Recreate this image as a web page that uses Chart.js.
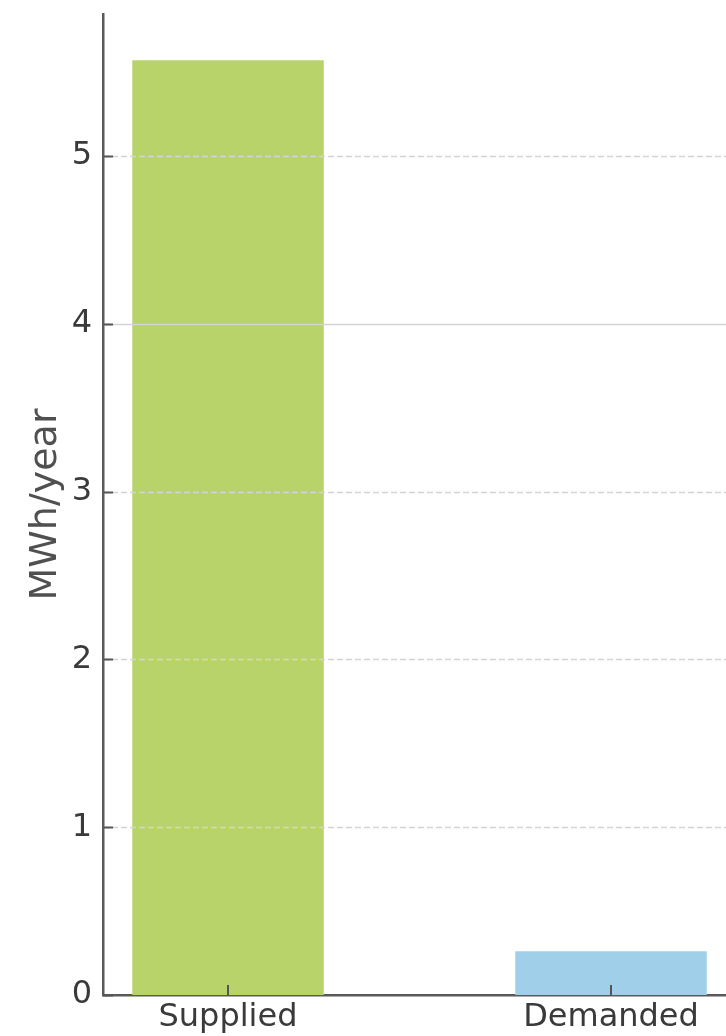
<!DOCTYPE html>
<html>
<head>
<meta charset="utf-8">
<title>Supplied vs demanded energy</title>
<script src="https://cdn.jsdelivr.net/npm/chart.js@4/dist/chart.umd.min.js"></script>
<style>
  html, body { margin: 0; padding: 0; background: #fff; }
  canvas { display: block; }
</style>
</head>
<body>
<canvas id="energyChart" width="726" height="1036"></canvas>
<script>
// ---- data ----
const categories  = ["Supplied", "Demanded"];
const energyMWh   = [5.57, 0.26];
const barColors   = ["#b9d36b", "#a0cfea"];
const yTicks      = [0, 1, 2, 3, 4, 5];
const yMax        = 5.846;
const solidLineAt = 4;

const FONT = "'DejaVu Sans', sans-serif";

// horizontal grid lines over the bars: dashed, except one solid reference line
const gridOverBars = {
  id: "gridOverBars",
  afterDatasetsDraw(chart) {
    const { ctx, chartArea, scales } = chart;
    ctx.save();
    ctx.strokeStyle = "#d4d4d4";
    ctx.lineWidth = 1.5;
    yTicks.forEach(v => {
      if (v === 0) return;
      const y = Math.round(scales.y.getPixelForValue(v)) + 0.5;
      ctx.setLineDash(v === solidLineAt ? [] : [6, 3]);
      ctx.beginPath();
      ctx.moveTo(chartArea.left, y);
      ctx.lineTo(chartArea.right, y);
      ctx.stroke();
    });
    ctx.restore();
  },
  // short inward tick marks on both axes
  afterDraw(chart) {
    const { ctx, chartArea, scales } = chart;
    ctx.save();
    ctx.strokeStyle = "#555";
    ctx.lineWidth = 2;
    ctx.beginPath();
    scales.y.ticks.forEach(t => {
      const y = Math.round(scales.y.getPixelForValue(t.value)) + 0.5;
      ctx.moveTo(chartArea.left, y);
      ctx.lineTo(chartArea.left + 10, y);
    });
    scales.x.ticks.forEach(t => {
      const x = Math.round(scales.x.getPixelForValue(t.value));
      ctx.moveTo(x, chartArea.bottom);
      ctx.lineTo(x, chartArea.bottom - 10);
    });
    ctx.stroke();
    ctx.restore();
  }
};

new Chart(document.getElementById("energyChart"), {
  type: "bar",
  data: {
    datasets: [{
      data: energyMWh.map((v, i) => ({ x: i, y: v })),
      backgroundColor: barColors,
      borderWidth: 0,
      barPercentage: 0.5,
      categoryPercentage: 1
    }]
  },
  options: {
    responsive: false,
    animation: false,
    layout: { padding: { top: 14, left: 0, right: 0, bottom: 0 } },
    plugins: { legend: { display: false }, tooltip: { enabled: false } },
    scales: {
      x: {
        type: "linear",
        offset: false,
        min: -0.3264,
        max: 1.3002,
        afterBuildTicks: s => { s.ticks = categories.map((_, i) => ({ value: i })); },
        afterFit: s => { s.height = 41; s.paddingLeft = 0; s.paddingRight = 0; },
        grid: { display: false, drawTicks: false },
        border: { display: true, color: "#5a5a5a", width: 2.5 },
        ticks: {
          padding: 3,
          color: "#3a3a3a",
          font: { family: FONT, size: 32 },
          callback: v => categories[v] ?? ""
        }
      },
      y: {
        min: 0,
        max: yMax,
        afterBuildTicks: s => { s.ticks = yTicks.map(v => ({ value: v })); },
        afterFit: s => { s.width = 103; s.paddingTop = 0; s.paddingBottom = 0; },
        grid: { display: false, drawTicks: false },
        border: { display: true, color: "#5a5a5a", width: 2.5 },
        ticks: {
          padding: 11,
          color: "#3a3a3a",
          font: { family: FONT, size: 32 }
        },
        title: {
          display: true,
          text: "MWh/year",
          color: "#505050",
          font: { family: FONT, size: 38 },
          padding: { top: 23, bottom: 0 }
        }
      }
    }
  },
  plugins: [gridOverBars]
});
</script>
</body>
</html>
